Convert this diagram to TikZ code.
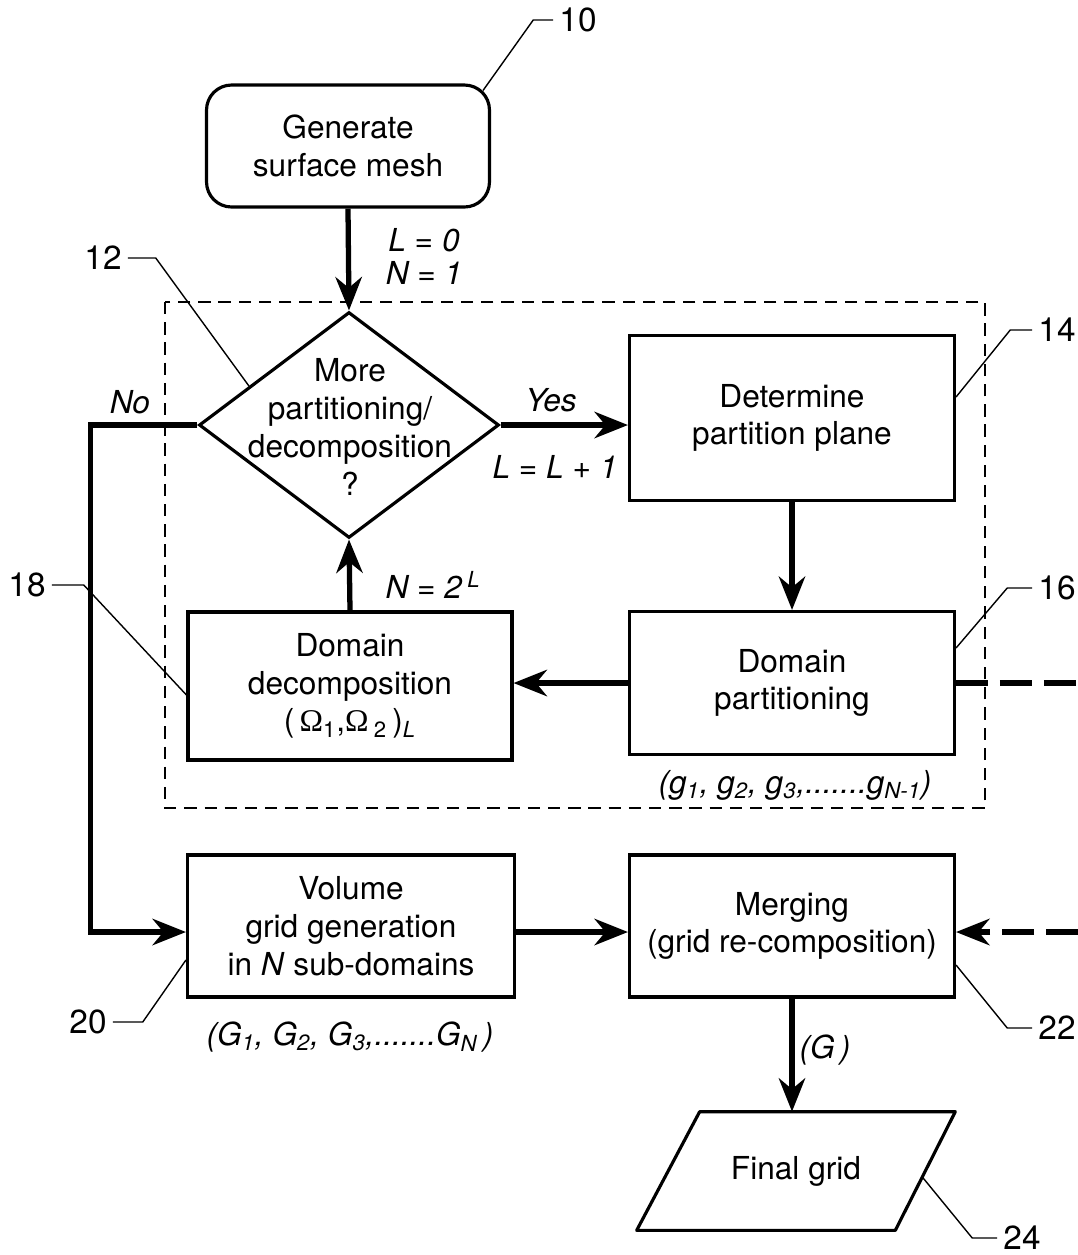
\documentclass[tikz,border=0pt]{standalone}
\usepackage{fontspec}
\setmainfont{TeX Gyre Heros}
\newfontfamily\greekfont{Liberation Serif}
\usetikzlibrary{shapes.geometric}
\usetikzlibrary{arrows.meta}
\usetikzlibrary{calc}

\begin{document}
\begin{tikzpicture}[x=0.02cm,y=-0.02cm,
  every node/.style={font=\fontsize{18}{21.5}\selectfont},
  box/.style={draw,line width=1.8pt,minimum width=6.5cm,align=center,inner sep=0pt},
  decision/.style={draw,diamond,line width=1.8pt,minimum width=6cm,minimum height=4.52cm,inner sep=0pt},
  flow/.style={line width=3pt,-{Stealth[length=19pt,width=15pt]}},
  lead/.style={line width=0.8pt},
  dashbox/.style={line width=0.8pt,dash pattern=on 7pt off 4.5pt},
  bigdash/.style={line width=3.4pt,dash pattern=on 18pt off 7pt},
  cue/.style={font=\fontsize{18}{21.5}\selectfont\itshape},
  num/.style={font=\fontsize{19}{22}\selectfont}]
  \useasboundingbox (0,0) rectangle (1078,1255);
  \draw[dashbox] (165,302) rectangle (985,808);

  \node[box,rounded corners=0.5cm,minimum width=5.66cm,minimum height=2.44cm] (gen) at (348,146) {Generate\\surface mesh};
  \node[decision] (more) at (349,425) {};
  \node[align=center] (moretxt) at (350,427) {More\\partitioning/\\decomposition\\?};
  \node[box,minimum height=3.3cm] (plane) at (792,418) {Determine\\partition plane};
  \node[box,minimum height=2.86cm] (part) at (792,683) {Domain\\partitioning};
  \node[box,minimum width=6.48cm,minimum height=2.96cm] (decomp) at (350,686)
    {Domain\\decomposition\\(\,{\greekfont Ω}\textsubscript{1},{\greekfont Ω}\,\textsubscript{2}\,)\textsubscript{\itshape L}};
  \node[box,minimum width=6.54cm,minimum height=2.84cm] (volume) at (351,926) {Volume\\grid generation\\in \textit{N} sub-domains};
  \node[box,minimum height=2.84cm] (merge) at (792,926) {Merging\\(grid re-composition)};
  \node[minimum width=6.36cm,minimum height=2.36cm,inner sep=0pt] (final) at (796,1171) {Final grid};
  \draw[line width=1.8pt,line join=round] ([shift={(63,0)}]final.north west) -- (final.north east)
    -- ([shift={(-60,0)}]final.south east) -- (final.south west) -- cycle;

  \node[cue] (l0) at (424,240) {L = 0};
  \node[cue] (n1) at (424,273) {N = 1};
  \node[cue] (yes) at (551,400) {Yes};
  \node[cue] (linc) at (555,467) {L = L + 1};
  \node[cue] (no) at (130,402) {No};
  \node[cue] (n2l) at (433,585) {N = 2\,\textsuperscript{L}};
  \node[cue] (gs) at (795,785) {(g\textsubscript{1}, g\textsubscript{2}, g\textsubscript{3},.......g\textsubscript{N-1})};
  \node[cue] (Gs) at (350,1037) {(G\textsubscript{1}, G\textsubscript{2}, G\textsubscript{3},.......G\textsubscript{N}\,)};
  \node[cue] (gg) at (825,1050) {(G\,)};

  \node[num] (n10) at (578,20) {10};
  \node[num] (n12) at (103,258) {12};
  \node[num] (n14) at (1057,330) {14};
  \node[num] (n16) at (1057,588) {16};
  \node[num] (n18) at (27,585) {18};
  \node[num] (n20) at (88,1022) {20};
  \node[num] (n22) at (1057,1028) {22};
  \node[num] (n24) at (1022,1238) {24};

  \coordinate (partout) at (1078,683);
  \coordinate (mergein) at (1078,932);

  \draw[flow] (gen.south) -- (more.north);
  \draw[flow] (more.east) -- (more.east -| plane.west);
  \draw[flow] (plane) -- (part);
  \draw[flow] (part.west) -- (part.west -| decomp.east);
  \draw[flow] (decomp.north) -- (more.south);
  \draw[flow] (more.west) -- ++(-107,0) |- ([shift={(0,6)}]volume.west);
  \draw[flow] ([shift={(0,6)}]volume.east) -- ([shift={(0,6)}]merge.west);
  \draw[flow] (merge.south) -- (merge.south |- final.north);
  \draw[bigdash] (part.east) -- (partout);
  \draw[bigdash,-{Stealth[length=19pt,width=15pt]}] (mergein) -- (mergein -| merge.east);

  \draw[lead] (n10.west) -- ++(-20,0) -- ([shift={(-8,7)}]gen.north east);
  \draw[lead] (n12.east) -- ++(28,0) -- ($(more.west)!0.34!(more.north)$);
  \draw[lead] (n14.west) -- ++(-22,0) -- ([shift={(0,-21)}]plane.east);
  \draw[lead] (n16.west) -- ++(-25,0) -- ([shift={(0,-35)}]part.east);
  \draw[lead] (n18.east) -- ++(32,0) -- ([shift={(0,9)}]decomp.west);
  \draw[lead] (n20.east) -- ++(30,0) -- ([shift={(0,34)}]volume.west);
  \draw[lead] (n22.west) -- ++(-25,0) -- ([shift={(0,39)}]merge.east);
  \draw[lead] (n24.west) -- ++(-25,0) -- ([shift={(-33,6)}]final.east);
\end{tikzpicture}
\end{document}
